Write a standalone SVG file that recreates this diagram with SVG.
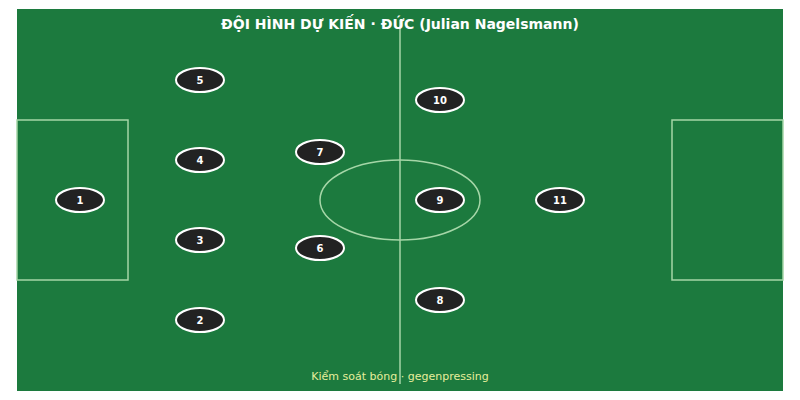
<svg xmlns="http://www.w3.org/2000/svg" width="800" height="400" viewBox="0 0 800 400">
<style>
.line{fill:none;stroke:#a5d6a7;stroke-width:1.5}
.p ellipse{fill:#222;stroke:#fff;stroke-width:2}
.p text{fill:#fff;font-family:"DejaVu Sans",sans-serif;font-size:10px;font-weight:bold;text-anchor:middle;dominant-baseline:central}
</style>
<rect x="0" y="0" width="800" height="400" fill="#fff"/>
<rect x="17" y="9" width="766" height="382" fill="#1c7a3e"/>
<g id="field">
<line class="line" x1="400" y1="20" x2="400" y2="384"/>
<ellipse class="line" cx="400" cy="200" rx="80" ry="40"/>
<rect class="line" x="17" y="120" width="111" height="160"/>
<rect class="line" x="672" y="120" width="111" height="160"/>
</g>
<text x="400" y="29" fill="#fff" font-family="DejaVu Sans,sans-serif" font-size="14" font-weight="bold" text-anchor="middle">ĐỘI HÌNH DỰ KIẾN · ĐỨC (Julian Nagelsmann)</text>
<text x="400" y="380" fill="#e6ee9c" font-family="DejaVu Sans,sans-serif" font-size="11" text-anchor="middle">Kiểm soát bóng · gegenpressing</text>
<g id="connectors"></g>
<g id="p1" class="p"><ellipse cx="80" cy="200" rx="24" ry="12"/><text x="80" y="200">1</text></g>
<g id="p2" class="p"><ellipse cx="200" cy="320" rx="24" ry="12"/><text x="200" y="320">2</text></g>
<g id="p3" class="p"><ellipse cx="200" cy="240" rx="24" ry="12"/><text x="200" y="240">3</text></g>
<g id="p4" class="p"><ellipse cx="200" cy="160" rx="24" ry="12"/><text x="200" y="160">4</text></g>
<g id="p5" class="p"><ellipse cx="200" cy="80" rx="24" ry="12"/><text x="200" y="80">5</text></g>
<g id="p6" class="p"><ellipse cx="320" cy="248" rx="24" ry="12"/><text x="320" y="248">6</text></g>
<g id="p7" class="p"><ellipse cx="320" cy="152" rx="24" ry="12"/><text x="320" y="152">7</text></g>
<g id="p8" class="p"><ellipse cx="440" cy="300" rx="24" ry="12"/><text x="440" y="300">8</text></g>
<g id="p9" class="p"><ellipse cx="440" cy="200" rx="24" ry="12"/><text x="440" y="200">9</text></g>
<g id="p10" class="p"><ellipse cx="440" cy="100" rx="24" ry="12"/><text x="440" y="100">10</text></g>
<g id="p11" class="p"><ellipse cx="560" cy="200" rx="24" ry="12"/><text x="560" y="200">11</text></g>
</svg>
